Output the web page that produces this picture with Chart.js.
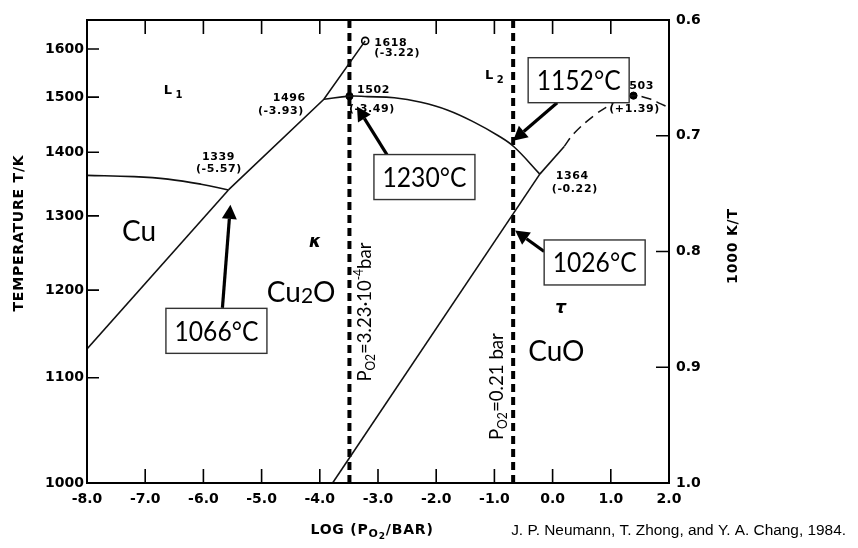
<!DOCTYPE html>
<html>
<head>
<meta charset="utf-8">
<title>Cu–O phase diagram</title>
<script src="https://cdn.jsdelivr.net/npm/chart.js@4.4.1/dist/chart.umd.min.js"></script>
<style>
  html, body { margin: 0; padding: 0; background: #fff; }
  canvas { display: block; }
</style>
</head>
<body>
<canvas id="chart" width="858" height="548"></canvas>
<script>
// ---- Phase boundaries: log(pO2 / bar) and temperature T / K ----
const cuLiquidusLogP = [-8.0, -7.19, -6.61, -6.04, -5.57];
const cuLiquidusT    = [1362, 1360, 1356, 1348, 1339];

const cuCu2oLogP = [-8.0, -5.57];
const cuCu2oT    = [1131, 1339];

const cu2oLiquidusLogP = [-5.57, -3.93, -3.22];
const cu2oLiquidusT    = [1339, 1496, 1618];

const domeLogP = [-3.93, -3.49, -3.18, -2.72, -2.26, -1.80, -1.35, -0.94, -0.66, -0.22];
const domeT    = [1496, 1502, 1501, 1499, 1490, 1475, 1453, 1429, 1409, 1364];

const cu2oCuoLogP = [-3.78, -0.22];
const cu2oCuoT    = [1000, 1364];

const cuoLiquidusLogP = [-0.22, 0.20];
const cuoLiquidusT    = [1364, 1410];

const cuoEstimatedLogP = [0.20, 0.37, 0.71, 0.97, 1.18, 1.39, 1.66, 1.86, 2.0];
const cuoEstimatedT    = [1410, 1433, 1465, 1484, 1497, 1503, 1497, 1487, 1480];

// invariant points: [log pO2, T/K]
const criticalPoint  = [-3.22, 1618];
const domeMaxPoint   = [-3.49, 1502];
const cuoMeltPoint   = [1.39, 1503];

// constant oxygen pressures (bar)
const refPressures = [3.23e-4, 0.21];

// axis ticks
const xTicks = [-8, -7, -6, -5, -4, -3, -2, -1, 0, 1, 2];
const tempTicks = [1000, 1100, 1200, 1300, 1400, 1500, 1600];
const invTempTicks = [0.6, 0.7, 0.8, 0.9, 1.0];

// callouts: temperature in °C and where it sits (log pO2)
const calloutC    = [1066, 1230, 1152, 1026];
const calloutLogP = [-5.57, Math.log10(refPressures[0]), Math.log10(refPressures[1]), Math.log10(refPressures[1])];

// ---- helpers ----
const inv = T => 1000 / T;
const pts = (xs, ts) => xs.map((x, i) => ({ x: x, y: inv(ts[i]) }));

const GILL = 'Lato, "Open Sans", sans-serif';
const TYPE = '"DejaVu Sans", Verdana, sans-serif';

function line(xs, ts, extra) {
  return Object.assign({
    data: pts(xs, ts), showLine: true, pointRadius: 0, borderColor: '#111',
    borderWidth: 1.6, fill: false, tension: 0, yAxisID: 'y'
  }, extra || {});
}

const refLines = refPressures.map(p => ({
  data: [{ x: Math.log10(p), y: 0.6 }, { x: Math.log10(p), y: 1.0 }],
  showLine: true, pointRadius: 0, borderColor: '#000', borderWidth: 4,
  borderDash: [8, 5], borderCapStyle: 'butt', fill: false, yAxisID: 'y'
}));

const datasets = [
  line(cuLiquidusLogP, cuLiquidusT, { tension: 0.4 }),
  line(cuCu2oLogP, cuCu2oT),
  line(cu2oLiquidusLogP, cu2oLiquidusT),
  line(domeLogP, domeT, { tension: 0.4 }),
  line(cu2oCuoLogP, cu2oCuoT),
  line(cuoLiquidusLogP, cuoLiquidusT),
  line(cuoEstimatedLogP, cuoEstimatedT, { tension: 0.4, borderDash: [10, 6], borderWidth: 1.5 }),
  ...refLines,
  {
    data: pts([criticalPoint[0]], [criticalPoint[1]]),
    pointRadius: 3.5, pointBackgroundColor: '#fff', pointBorderColor: '#000', pointBorderWidth: 1.6,
    showLine: false, yAxisID: 'y'
  },
  {
    data: pts([domeMaxPoint[0], cuoMeltPoint[0]], [domeMaxPoint[1], cuoMeltPoint[1]]),
    pointRadius: 3.6, pointBackgroundColor: '#000', pointBorderColor: '#000', pointBorderWidth: 1,
    showLine: false, yAxisID: 'y'
  }
];

// draws a run of text pieces with their own size / offset
function rich(ctx, parts, x, y, align, fitW) {
  const widths = parts.map(p => { ctx.font = p.font; return ctx.measureText(p.t).width; });
  const total = widths.reduce((a, b) => a + b, 0);
  const s = fitW && total > fitW ? fitW / total : 1;
  ctx.save();
  ctx.translate(x, y);
  ctx.scale(s, 1);
  ctx.textAlign = 'left';
  ctx.textBaseline = 'alphabetic';
  let cx = align === 'center' ? -total / 2 : align === 'right' ? -total : 0;
  parts.forEach((p, i) => { ctx.font = p.font; ctx.fillText(p.t, cx, p.dy || 0); cx += widths[i]; });
  ctx.restore();
}

function px(chart, logP, T) {
  return [chart.scales.x.getPixelForValue(logP), chart.scales.y.getPixelForValue(inv(T))];
}

// frame and inward tick marks
const framePlugin = {
  id: 'frame',
  afterDatasetsDraw(chart) {
    const { ctx, chartArea: a, scales } = chart;
    ctx.save();
    ctx.strokeStyle = '#000';
    ctx.lineWidth = 1.6;
    ctx.beginPath();
    scales.x.ticks.forEach(t => {
      if (t.value <= -8 || t.value >= 2) return;
      const xp = scales.x.getPixelForValue(t.value);
      ctx.moveTo(xp, a.bottom); ctx.lineTo(xp, a.bottom - 14);
      if (t.value !== -3) { ctx.moveTo(xp, a.top); ctx.lineTo(xp, a.top + 14); }
    });
    scales.y.ticks.forEach(t => {
      if (t.value >= 1.0) return;
      const yp = scales.y.getPixelForValue(t.value);
      ctx.moveTo(a.left, yp); ctx.lineTo(a.left + 12, yp);
    });
    scales.y2.ticks.forEach(t => {
      if (t.value <= 0.6001 || t.value >= 0.9999) return;
      const yp = scales.y2.getPixelForValue(t.value);
      ctx.moveTo(a.right, yp); ctx.lineTo(a.right - 13, yp);
    });
    ctx.stroke();
    ctx.lineWidth = 2;
    ctx.strokeRect(a.left, a.top, a.right - a.left, a.bottom - a.top);
    ctx.restore();
  }
};

// labels, point values and callouts
const labelPlugin = {
  id: 'labels',
  afterDraw(chart) {
    const ctx = chart.ctx;
    ctx.save();
    ctx.fillStyle = '#000';

    // phase fields
    const big = '28px ' + GILL;
    const at = (logP, T) => px(chart, logP, T);
    let p = at(-7.40, 1265); rich(ctx, [{ t: 'Cu', font: big }], p[0], p[1], 'left');
    p = at(-4.91, 1185);
    rich(ctx, [{ t: 'Cu', font: big }, { t: '2', font: '21px ' + GILL, dy: 1 }, { t: 'O', font: big }], p[0], p[1], 'left');
    p = at(-0.42, 1118); rich(ctx, [{ t: 'CuO', font: big }], p[0], p[1], 'left');

    ctx.font = 'italic bold 17px ' + TYPE;
    ctx.textAlign = 'center'; ctx.textBaseline = 'middle';
    p = at(-4.08, 1262); ctx.fillText('κ', p[0], p[1]);
    p = at(0.14, 1177); ctx.fillText('τ', p[0], p[1]);

    p = at(-6.68, 1507);
    rich(ctx, [{ t: 'L', font: 'bold 13px ' + TYPE }, { t: ' 1', font: 'bold 10px ' + TYPE, dy: 4 }], p[0], p[1], 'left');
    p = at(-1.16, 1537);
    rich(ctx, [{ t: 'L', font: 'bold 13px ' + TYPE }, { t: ' 2', font: 'bold 10px ' + TYPE, dy: 4 }], p[0], p[1], 'left');

    // values at invariant points
    const small = 'bold 11px ' + TYPE;
    ctx.letterSpacing = '0.6px';
    const tag = (logP, T, lines) => {
      const q = at(logP, T);
      lines.forEach(l => rich(ctx, [{ t: l[0], font: small }], q[0] + l[1], q[1] + l[2], l[3]));
    };
    tag(criticalPoint[0], criticalPoint[1], [['1618', 9, 5, 'left'], ['(-3.22)', 9, 15, 'left']]);
    tag(-3.93, 1496, [['1496', -18, 1.5, 'right'], ['(-3.93)', -20, 15, 'right']]);
    tag(domeMaxPoint[0], domeMaxPoint[1], [['1502', 7.5, -3.5, 'left'], ['(-3.49)', -0.5, 16, 'left']]);
    tag(-5.57, 1339, [['1339', -10, -29.5, 'center'], ['(-5.57)', -9.5, -18, 'center']]);
    tag(-0.22, 1364, [['1364', 16, 4.5, 'left'], ['(-0.22)', 12, 18, 'left']]);
    tag(cuoMeltPoint[0], cuoMeltPoint[1], [['1503', -12.5, -7, 'left'], ['(+1.39)', 1, 16.5, 'center']]);
    ctx.letterSpacing = '0px';

    // constant-pressure labels, written upward beside their lines
    const mid = '20px ' + GILL, sub = '13px ' + GILL;
    const vText = (logP, T, dx, parts, fitW) => {
      const q = at(logP, T);
      ctx.save();
      ctx.translate(q[0] + dx, q[1]);
      ctx.rotate(-Math.PI / 2);
      rich(ctx, parts, 0, 0, 'left', fitW);
      ctx.restore();
    };
    vText(Math.log10(refPressures[0]), 1096, 22, [
      { t: 'P', font: mid }, { t: 'O2', font: sub, dy: 4 }, { t: '=3.23·10', font: mid },
      { t: '-4', font: sub, dy: -8 }, { t: 'bar', font: mid }
    ], 139);
    vText(Math.log10(refPressures[1]), 1038.5, -10, [
      { t: 'P', font: mid }, { t: 'O2', font: sub, dy: 4 }, { t: '=0.21 bar', font: mid }
    ], 107);

    // callouts with arrows
    const layout = [
      { tip: [2, 15],   tail: [-8, 103], box: [-14, 126] },
      { tip: [7.5, 11], tail: [30, 48],  box: [67.5, 70.5] },
      { tip: [0, 3],    tail: [44, -38], box: [65.5, -60.5] },
      { tip: [2, 14],   tail: [29, 21],  box: [79.5, 32] }
    ];
    calloutC.forEach((c, i) => {
      const L = layout[i];
      const a = at(calloutLogP[i], c + 273.15);
      const tx = a[0] + L.tip[0], ty = a[1] + L.tip[1];
      const sx = tx + L.tail[0], sy = ty + L.tail[1];
      const ang = Math.atan2(ty - sy, tx - sx);
      const head = 14, hw = 7.5;
      const bx = tx - head * Math.cos(ang), by = ty - head * Math.sin(ang);
      ctx.strokeStyle = '#000'; ctx.lineWidth = 3.2; ctx.lineCap = 'butt';
      ctx.beginPath(); ctx.moveTo(sx, sy); ctx.lineTo(bx, by); ctx.stroke();
      ctx.beginPath();
      ctx.moveTo(tx, ty);
      ctx.lineTo(bx + hw * Math.sin(ang), by - hw * Math.cos(ang));
      ctx.lineTo(bx - hw * Math.sin(ang), by + hw * Math.cos(ang));
      ctx.closePath(); ctx.fill();

      const cx = tx + L.box[0], cy = ty + L.box[1];
      const w = 101, h = 45;
      ctx.fillStyle = '#fff';
      ctx.fillRect(cx - w / 2, cy - h / 2, w, h);
      ctx.strokeStyle = '#333'; ctx.lineWidth = 1.4;
      ctx.strokeRect(cx - w / 2, cy - h / 2, w, h);
      ctx.fillStyle = '#000';
      rich(ctx, [{ t: c + '°C', font: '27px ' + GILL }], cx, cy + 10, 'center', 84);
    });

    // axis titles and source line
    const ttl = 'bold 14px ' + TYPE;
    ctx.letterSpacing = '0.8px';
    ctx.save(); ctx.translate(19, 233); ctx.rotate(-Math.PI / 2);
    ctx.font = ttl; ctx.textAlign = 'center'; ctx.textBaseline = 'middle';
    ctx.fillText('TEMPERATURE T/K', 0, 0); ctx.restore();
    ctx.save(); ctx.translate(733, 246); ctx.rotate(-Math.PI / 2);
    ctx.font = ttl; ctx.textAlign = 'center'; ctx.textBaseline = 'middle';
    ctx.fillText('1000 K/T', 0, 0); ctx.restore();
    rich(ctx, [{ t: 'LOG (P', font: ttl }, { t: 'O', font: 'bold 11px ' + TYPE, dy: 3 },
               { t: '2', font: 'bold 9px ' + TYPE, dy: 5 }, { t: '/BAR)', font: ttl }], 372, 534, 'center');
    ctx.letterSpacing = '0px';
    ctx.font = '15.4px "Liberation Sans", Arial, sans-serif';
    ctx.textAlign = 'right'; ctx.textBaseline = 'alphabetic';
    ctx.fillText('J. P. Neumann, T. Zhong, and Y. A. Chang, 1984.', 846, 535);
    ctx.restore();
  }
};

const tickFont = { family: TYPE, weight: 'bold', size: 14 };

function start() {
  new Chart(document.getElementById('chart'), {
    type: 'scatter',
    data: { datasets: datasets },
    options: {
      responsive: false,
      animation: false,
      devicePixelRatio: 1,
      layout: { padding: { top: 20, left: 0, right: 0, bottom: 0 } },
      plugins: { legend: { display: false }, tooltip: { enabled: false } },
      scales: {
        x: {
          type: 'linear', position: 'bottom', min: -8, max: 2,
          afterBuildTicks: s => { s.ticks = xTicks.map(v => ({ value: v })); },
          ticks: { callback: v => v.toFixed(1), color: '#000', font: tickFont, padding: 8, maxRotation: 0, autoSkip: false },
          grid: { display: false, drawTicks: false },
          border: { display: false },
          afterFit: s => { s.height = 65; }
        },
        y: {
          type: 'linear', position: 'left', min: 0.6, max: 1.0, reverse: true,
          afterBuildTicks: s => { s.ticks = tempTicks.map(t => ({ value: inv(t) })); },
          ticks: { callback: v => String(Math.round(1000 / v)), color: '#000', font: tickFont, padding: 3, autoSkip: false },
          grid: { display: false, drawTicks: false },
          border: { display: false },
          afterFit: s => { s.width = 87; }
        },
        y2: {
          type: 'linear', position: 'right', min: 0.6, max: 1.0, reverse: true,
          afterBuildTicks: s => { s.ticks = invTempTicks.map(v => ({ value: v })); },
          ticks: { callback: v => v.toFixed(1), color: '#000', font: tickFont, padding: 7, autoSkip: false },
          grid: { display: false, drawTicks: false },
          border: { display: false },
          afterFit: s => { s.width = 189; }
        }
      }
    },
    plugins: [framePlugin, labelPlugin]
  });
}

const fontLoads = ['28px Lato', 'bold 14px "DejaVu Sans"', '15px "Liberation Sans"']
  .map(f => document.fonts.load(f).catch(() => null));
Promise.all(fontLoads).then(start, start);
</script>
</body>
</html>
